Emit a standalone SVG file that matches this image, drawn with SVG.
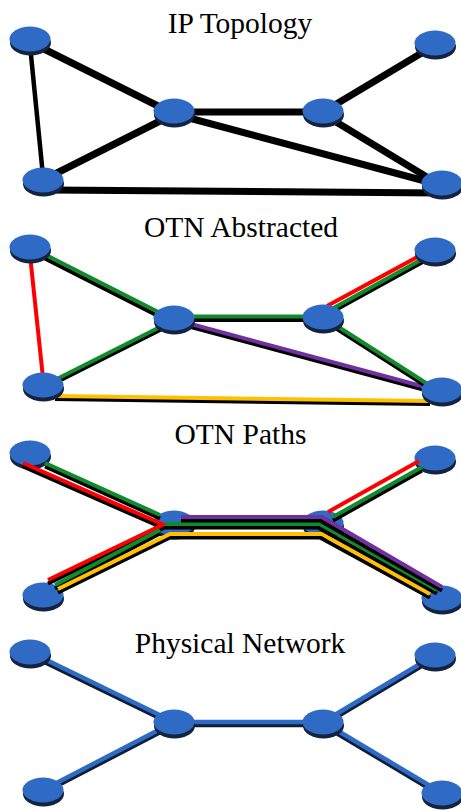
<svg xmlns="http://www.w3.org/2000/svg" xmlns:xlink="http://www.w3.org/1999/xlink" width="461" height="810" viewBox="0 0 461 810">
<style>
.title{font-family:"Liberation Serif","Times New Roman",serif;font-size:29.5px;fill:#000;text-anchor:middle}
.blk{stroke:#000;fill:none;stroke-linecap:butt}
.sh{stroke:#000;fill:none;stroke-width:4}
.g{stroke:#118a2c;fill:none;stroke-width:4}
.r{stroke:#ff0000;fill:none;stroke-width:4}
.y{stroke:#ffc000;fill:none;stroke-width:4}
.p{stroke:#7030a0;fill:none;stroke-width:4}
.bl{stroke:#2f6bc5;fill:none;stroke-width:4.5}
.bsh{stroke:#0f1e38;fill:none;stroke-width:4.5}
</style>
<defs>
<g id="disc">
<ellipse cx="0.5" cy="4" rx="20.5" ry="12.5" fill="#142440"/>
<ellipse cx="0" cy="0" rx="20.5" ry="12.5" fill="#2f6bc5"/>
</g>
</defs>
<rect width="461" height="810" fill="#fff"/>

<text class="title" x="240" y="33">IP Topology</text>
<text class="title" x="241" y="237">OTN Abstracted</text>
<text class="title" x="240.5" y="444">OTN Paths</text>
<text class="title" x="240" y="653">Physical Network</text>

<!-- Panel 1 connectors -->
<g id="connectors-ip">
<line class="blk" stroke-width="7" x1="30" y1="42" x2="174" y2="114"/>
<line class="blk" stroke-width="4.5" x1="30" y1="45" x2="43" y2="176"/>
<line class="blk" stroke-width="7" x1="174" y1="112" x2="323" y2="112"/>
<line class="blk" stroke-width="7" x1="323" y1="112" x2="435" y2="45"/>
<line class="blk" stroke-width="7" x1="174" y1="114" x2="43" y2="180"/>
<line class="blk" stroke-width="7" x1="174" y1="114" x2="440" y2="185"/>
<line class="blk" stroke-width="7" x1="323" y1="114" x2="440" y2="185"/>
<line class="blk" stroke-width="7" x1="50" y1="190" x2="440" y2="193"/>
</g>
<!-- Panel 2 connectors -->
<g id="connectors-otn-abstracted">
<line class="sh" x1="34" y1="253" x2="170" y2="322"/>
<line class="g" x1="36" y1="250" x2="172" y2="319"/>
<line class="r" x1="30" y1="255" x2="43" y2="378"/>
<line class="sh" x1="45" y1="388" x2="172" y2="324"/>
<line class="g" x1="45" y1="385" x2="172" y2="321"/>
<line class="sh" x1="174" y1="320" x2="323" y2="320"/>
<line class="g" x1="174" y1="316.5" x2="323" y2="316.5"/>
<line class="sh" x1="330" y1="313" x2="430" y2="258"/>
<line class="g" x1="330" y1="310" x2="430" y2="255"/>
<line class="r" x1="327" y1="306" x2="421" y2="255"/>
<line class="sh" x1="176" y1="323" x2="440" y2="394"/>
<line class="p" x1="176" y1="320" x2="440" y2="391"/>
<line class="sh" x1="323" y1="320" x2="440" y2="395"/>
<line class="g" x1="323" y1="317" x2="440" y2="392"/>
<line class="sh" x1="55" y1="399" x2="430" y2="404"/>
<line class="y" x1="55" y1="396" x2="430" y2="401"/>
</g>
<!-- Panel 4 connectors -->
<g id="connectors-physical">
<line class="bsh" x1="30" y1="655" x2="174" y2="725"/>
<line class="bl" x1="30" y1="652" x2="174" y2="722"/>
<line class="bsh" x1="43" y1="793" x2="174" y2="725"/>
<line class="bl" x1="43" y1="790" x2="174" y2="722"/>
<line class="bsh" x1="174" y1="725" x2="323" y2="725"/>
<line class="bl" x1="174" y1="722" x2="323" y2="722"/>
<line class="bsh" x1="323" y1="725" x2="435" y2="658"/>
<line class="bl" x1="323" y1="722" x2="435" y2="655"/>
<line class="bsh" x1="323" y1="725" x2="442" y2="796"/>
<line class="bl" x1="323" y1="722" x2="442" y2="793"/>
</g>

<!-- Nodes panel 1 -->
<g id="ip-A"><use href="#disc" x="30" y="39"/></g>
<g id="ip-B"><use href="#disc" x="435" y="43"/></g>
<g id="ip-C"><use href="#disc" x="174" y="111"/></g>
<g id="ip-D"><use href="#disc" x="323" y="111"/></g>
<g id="ip-E"><use href="#disc" x="43" y="180"/></g>
<g id="ip-F"><use href="#disc" x="442" y="183"/></g>
<!-- Nodes panel 2 -->
<g id="oa-A"><use href="#disc" x="30" y="247"/></g>
<g id="oa-B"><use href="#disc" x="435" y="250"/></g>
<g id="oa-C"><use href="#disc" x="174" y="318"/></g>
<g id="oa-D"><use href="#disc" x="323" y="317"/></g>
<g id="oa-E"><use href="#disc" x="43" y="385"/></g>
<g id="oa-F"><use href="#disc" x="442" y="390"/></g>
<!-- Nodes panel 3 -->
<g id="op-A"><use href="#disc" x="30" y="453"/></g>
<g id="op-B"><use href="#disc" x="435" y="458"/></g>
<g id="op-C"><use href="#disc" x="174" y="523"/></g>
<g id="op-D"><use href="#disc" x="323" y="523"/></g>
<g id="op-E"><use href="#disc" x="43" y="595"/></g>
<g id="op-F"><use href="#disc" x="442" y="598"/></g>
<!-- Nodes panel 4 -->
<g id="ph-A"><use href="#disc" x="30" y="652"/></g>
<g id="ph-B"><use href="#disc" x="435" y="655"/></g>
<g id="ph-C"><use href="#disc" x="174" y="722"/></g>
<g id="ph-D"><use href="#disc" x="323" y="722"/></g>
<g id="ph-E"><use href="#disc" x="43" y="790"/></g>
<g id="ph-F"><use href="#disc" x="442" y="793"/></g>

<!-- Panel 3 connectors (drawn over nodes) -->
<g id="connectors-otn-paths">
<polyline class="sh" points="45,466.5 160,518.5"/>
<polyline class="g" points="45,463 160,515"/>
<polyline class="sh" points="23,466.5 163,528 48,583.5"/>
<polyline class="r" points="23,463 163,524.5 48,580"/>
<polyline class="sh" points="55,588.5 160,533.5"/>
<polyline class="g" points="55,585 160,530"/>
<polyline class="sh" points="58,592.5 170,537.5 320,537.5 430,597.5"/>
<polyline class="y" points="58,589 170,534 322,534 430,594"/>
<polyline class="sh" points="165,527.5 318,527.5 437,593.5"/>
<polyline class="g" points="165,524 320,524 437,590"/>
<polyline class="sh" points="181,520.5 320,520.5 442,590.5"/>
<polyline class="p" points="181,517 322,517 442,587"/>
<polyline class="sh" points="333,520.5 422,470.5"/>
<polyline class="g" points="333,517 422,467"/>
<polyline class="r" points="328,512 419,461"/>
</g>
</svg>
